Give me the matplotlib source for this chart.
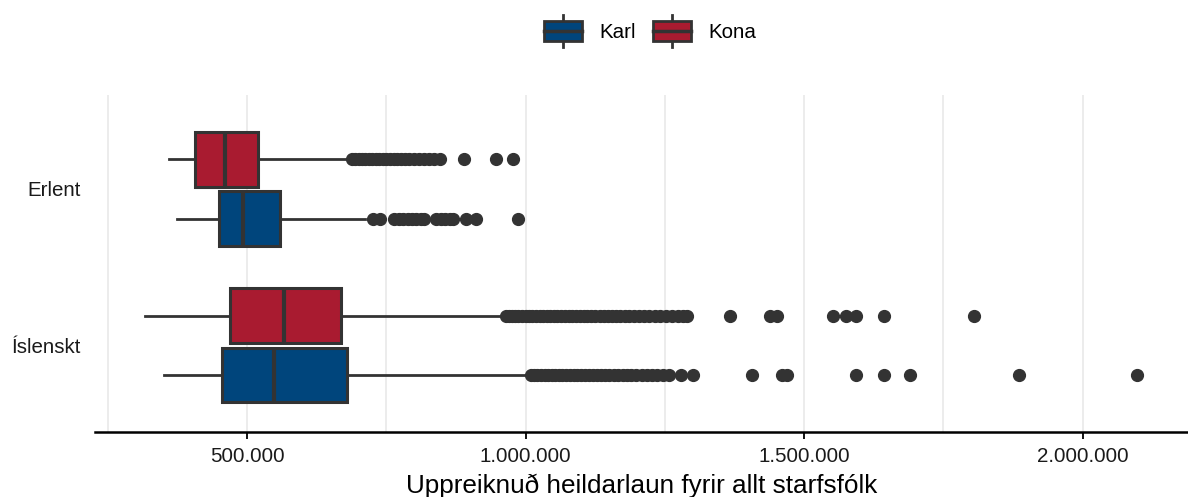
import numpy as np
import matplotlib.pyplot as plt
from matplotlib.patches import Patch, Rectangle
from matplotlib.lines import Line2D
from matplotlib.legend_handler import HandlerBase
from matplotlib.ticker import FuncFormatter, MultipleLocator

plt.rcParams['font.family'] = ['Liberation Sans', 'DejaVu Sans']

categories = ["Íslenskt", "Erlent"]
groups = ["Karl", "Kona"]
colors = {"Karl": "#00457c", "Kona": "#a91b30"}

# summary stats per (category, group): whislo, q1, med, q3, whishi
stats_erlent_karl = [374000, 449000, 492000, 559000, 712000]
stats_erlent_kona = [359000, 407000, 461000, 519000, 676000]
stats_isl_karl = [350000, 455000, 549000, 679000, 1000000]
stats_isl_kona = [316000, 470000, 567000, 669000, 955000]

# outliers (thousands)
out_erlent_kona = [688, 694, 700, 706, 712, 719, 725, 731, 737, 744, 750, 757, 763,
                   770, 777, 784, 791, 800, 808, 817, 826, 836, 846, 890, 946, 977]
out_erlent_karl = [726, 738, 764, 772, 780, 788, 796, 804, 812, 818, 840, 848, 856,
                   864, 870, 893, 911, 986]
out_isl_kona = [964, 970, 976, 981, 987, 993, 1000, 1006, 1012, 1019, 1025, 1031,
                1038, 1044, 1051, 1057, 1063, 1070, 1077, 1084, 1090, 1097, 1104,
                1111, 1118, 1125, 1133, 1140, 1147, 1155, 1162, 1170, 1178, 1186,
                1195, 1204, 1213, 1222, 1232, 1242, 1252, 1262, 1274, 1282, 1289,
                1366, 1439, 1452, 1551, 1575, 1593, 1644, 1805]
out_isl_karl = [1009, 1015, 1021, 1028, 1034, 1040, 1047, 1053, 1060, 1066, 1073,
                1080, 1086, 1093, 1100, 1107, 1114, 1121, 1128, 1135, 1143, 1150,
                1158, 1166, 1174, 1182, 1190, 1199, 1208, 1217, 1226, 1236, 1246,
                1257, 1279, 1301, 1406, 1460, 1470, 1593, 1644, 1690, 1885, 2098]

data = {
    ("Erlent", "Karl"): (stats_erlent_karl, out_erlent_karl),
    ("Erlent", "Kona"): (stats_erlent_kona, out_erlent_kona),
    ("Íslenskt", "Karl"): (stats_isl_karl, out_isl_karl),
    ("Íslenskt", "Kona"): (stats_isl_kona, out_isl_kona),
}

edge = "#333333"
fig = plt.figure(figsize=(11.88, 4.97), dpi=100)
ax = fig.add_axes([95 / 1188, 1 - 432 / 497, 1 - 95 / 1188, (432 - 95) / 497])

offsets = {"Karl": -0.19, "Kona": 0.19}
for ci, cat in enumerate(categories):
    for g in groups:
        s, fl = data[(cat, g)]
        st = dict(whislo=s[0], q1=s[1], med=s[2], q3=s[3], whishi=s[4],
                  fliers=np.array(fl) * 1000)
        ax.bxp([st], positions=[ci + 1 + offsets[g]], widths=0.35,
               orientation='horizontal', patch_artist=True, showcaps=False,
               boxprops=dict(facecolor=colors[g], edgecolor=edge, linewidth=2.2),
               medianprops=dict(color=edge, linewidth=3),
               whiskerprops=dict(color=edge, linewidth=2),
               flierprops=dict(marker='o', markersize=8.5, markerfacecolor=edge,
                               markeredgecolor=edge, linestyle='none'),
               manage_ticks=False)

ax.set_xlim(227000, 2189000)
ax.set_ylim(0.446, 2.6)
ax.set_yticks([1, 2])
ax.set_yticklabels(categories)
ax.xaxis.set_major_locator(MultipleLocator(500000))
ax.xaxis.set_minor_locator(MultipleLocator(250000))
ax.xaxis.set_major_formatter(FuncFormatter(lambda v, p: f"{int(v):,}".replace(",", ".")))
ax.grid(axis='x', which='both', color='#ebebeb', linewidth=1.3)
ax.set_axisbelow(True)
for sp in ["top", "right", "left"]:
    ax.spines[sp].set_visible(False)
ax.spines["bottom"].set_linewidth(1.8)
ax.spines["bottom"].set_color("black")
ax.tick_params(axis='y', length=0, pad=10, labelsize=14.8, labelcolor='#1a1a1a')
ax.tick_params(axis='x', which='major', length=5, width=1.3, color='black',
               labelsize=14.8, labelcolor='#1a1a1a', pad=6)
ax.tick_params(axis='x', which='minor', length=0)
ax.set_xlabel("Uppreiknuð heildarlaun fyrir allt starfsfólk", fontsize=18.8, labelpad=5)


class BoxHandler(HandlerBase):
    def create_artists(self, legend, orig_handle, xdescent, ydescent, width, height,
                       fontsize, trans):
        fc = orig_handle.get_facecolor()
        x0, y0 = -xdescent, -ydescent
        bh = height * 0.64
        by = y0 + (height - bh) / 2
        rect = Rectangle((x0, by), width, bh, facecolor=fc, edgecolor=edge,
                         linewidth=2, transform=trans)
        med = Line2D([x0, x0 + width], [y0 + height / 2] * 2, color=edge,
                     linewidth=2.5, transform=trans)
        w1 = Line2D([x0 + width / 2] * 2, [y0, by], color=edge, linewidth=2,
                    transform=trans)
        w2 = Line2D([x0 + width / 2] * 2, [by + bh, y0 + height], color=edge,
                    linewidth=2, transform=trans)
        return [w1, w2, rect, med]


handles = [Patch(facecolor=colors[g]) for g in groups]
fig.legend(handles, groups, handler_map={Patch: BoxHandler()}, loc='center',
           bbox_to_anchor=(650 / 1188, 1 - 31 / 497), ncol=2, frameon=False,
           fontsize=14.8, handlelength=1.83, handleheight=2.0, handletextpad=0.85,
           columnspacing=0.85, borderpad=0.2)

fig.savefig("out.png", dpi=100)
